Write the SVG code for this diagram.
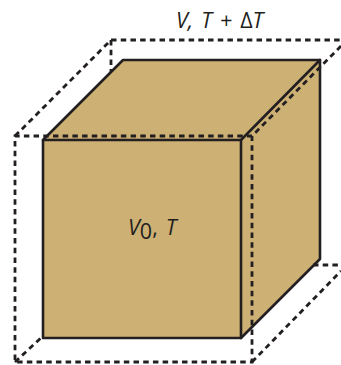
<svg xmlns="http://www.w3.org/2000/svg" width="341" height="365" viewBox="0 0 341 365">
<style>
.solid{fill:none;stroke:#231f20;stroke-width:2.6;stroke-linejoin:round;stroke-linecap:round}
.dash{fill:none;stroke:#231f20;stroke-width:2.8;stroke-dasharray:5.5 4.2}
.t{font-family:"Open Sans","Noto Sans",sans-serif;font-size:21.5px;fill:#231f20;font-style:italic;word-spacing:2.4px}
</style>
<rect width="341" height="365" fill="#fff"/>
<g id="cube">
<path d="M43 140L123 60H320V259L241 338H43Z" fill="#cdb074"/>
</g>
<g id="connectors">
<path class="dash" d="M15 136L111 40H341"/>
<path class="dash" d="M111 40V72"/>
<path class="dash" d="M341 46L252 136H15V362H252V136"/>
<path class="dash" d="M15 362L43 336"/>
<path class="dash" d="M252 362L341 271"/>
<path class="dash" d="M313 265H341"/>
<path class="solid" d="M43 140H241V338H43Z"/>
<path class="solid" d="M43 140L123 60H320V259L241 338"/>
<path class="solid" d="M241 140L320 60"/>
</g>
<g id="label-top"><text class="t" x="176" y="28" xml:space="preserve">V, T + <tspan font-style="normal">Δ</tspan>T</text></g>
<g id="label-center"><text class="t" x="128" y="235">V<tspan font-style="normal" dy="4">0</tspan><tspan font-style="normal" dy="-4">, </tspan>T</text></g>
</svg>
